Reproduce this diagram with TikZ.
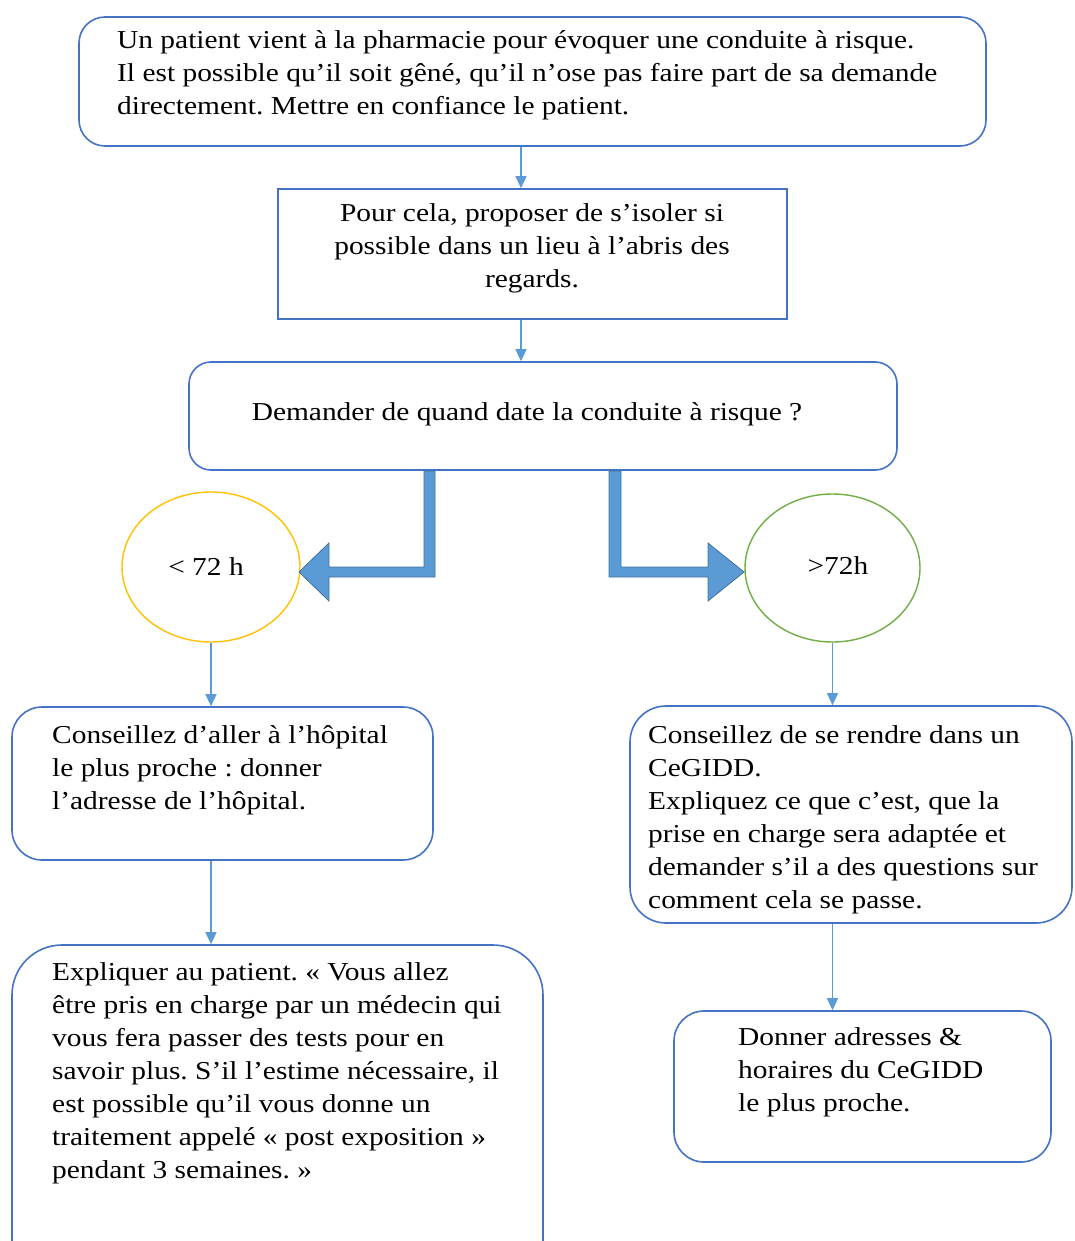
\documentclass[tikz,border=0pt]{standalone}
\usepackage{fontspec}
\setmainfont{Liberation Serif}[FakeStretch=1.14]
\usetikzlibrary{shapes.geometric,arrows.meta}
\definecolor{boxblue}{HTML}{4472C4}
\definecolor{lineblue}{HTML}{5B9BD5}
\definecolor{arrowedge}{HTML}{41719C}
\definecolor{ellyellow}{HTML}{FFC000}
\definecolor{ellgreen}{HTML}{70AD47}
\tikzset{
  flowbox/.style={draw=boxblue, line width=1.6pt, rectangle, inner sep=0pt},
  conn/.style={draw=lineblue, line width=1.4pt, -{Triangle[width=11pt,length=12pt]}},
  txt/.style={inner sep=0pt, font=\fontsize{25.8}{33}\selectfont\frenchspacing},
  blockarrow/.style={fill=lineblue, draw=arrowedge, line width=0.8pt, line join=miter},
}
\frenchspacing
\begin{document}
\begin{tikzpicture}[x=1pt,y=-1pt]
\useasboundingbox (0,0) rectangle (1074,1241);
\clip (0,0) rectangle (1074,1241);
% boxes
\node[flowbox, rounded corners=26pt, minimum width=907pt, minimum height=129pt] (b1) at (532.5,81.5) {};
\node[flowbox, minimum width=509pt, minimum height=130pt] (b2) at (532.5,254) {};
\node[flowbox, rounded corners=22pt, minimum width=708pt, minimum height=108pt] (b3) at (543,416) {};
\node[draw=ellyellow, line width=1.4pt, ellipse, minimum width=178pt, minimum height=150pt, inner sep=0pt] (lt) at (211,567) {};
\node[draw=ellgreen, line width=1.4pt, ellipse, minimum width=175pt, minimum height=148pt, inner sep=0pt] (gt) at (832.5,568) {};
\node[flowbox, rounded corners=30pt, minimum width=421pt, minimum height=153pt] (b4) at (222.5,783.5) {};
\node[flowbox, rounded corners=50pt, minimum width=531pt, minimum height=345pt] (b5) at (277.5,1117.5) {};
\node[flowbox, rounded corners=36pt, minimum width=442pt, minimum height=217pt] (b6) at (851,814.5) {};
\node[flowbox, rounded corners=30pt, minimum width=377pt, minimum height=151pt] (b7) at (862.5,1086.5) {};
% texts
\node[txt, anchor=base west] (t1) at (117,49) {\parbox[t]{900pt}{\frenchspacing\raggedright Un patient vient à la pharmacie pour évoquer une conduite à risque.\\Il est possible qu’il soit gêné, qu’il n’ose pas faire part de sa demande\\directement. Mettre en confiance le patient.}};
\node[txt, anchor=base] (t2) at (532,222) {\parbox[t]{500pt}{\frenchspacing\centering Pour cela, proposer de s’isoler si\\possible dans un lieu à l’abris des\\regards.}};
\node[txt, anchor=base] (t3) at (527,420) {Demander de quand date la conduite à risque ?};
\node[txt, anchor=base] (tlt) at (206,575) {< 72 h};
\node[txt, anchor=base] (tgt) at (838,574) {>72h};
\node[txt, anchor=base west] (t4) at (52,743) {\parbox[t]{400pt}{\frenchspacing\raggedright Conseillez d’aller à l’hôpital\\le plus proche : donner\\l’adresse de l’hôpital.}};
\node[txt, anchor=base west] (t5) at (52,980) {\parbox[t]{500pt}{\frenchspacing\raggedright Expliquer au patient. « Vous allez\\être pris en charge par un médecin qui\\vous fera passer des tests pour en\\savoir plus. S’il l’estime nécessaire, il\\est possible qu’il vous donne un\\traitement appelé « post exposition »\\pendant 3 semaines. »}};
\node[txt, anchor=base west] (t6) at (648,743) {\parbox[t]{430pt}{\frenchspacing\raggedright Conseillez de se rendre dans un\\CeGIDD.\\Expliquez ce que c’est, que la\\prise en charge sera adaptée et\\demander s’il a des questions sur\\comment cela se passe.}};
\node[txt, anchor=base west] (t7) at (738,1045) {\parbox[t]{320pt}{\frenchspacing\raggedright Donner adresses \&\\horaires du CeGIDD\\le plus proche.}};
% thin connectors
\coordinate (cx) at (521,0);
\draw[conn] (cx |- b1.south) -- (cx |- b2.north);
\draw[conn] (cx |- b2.south) -- (cx |- b3.north);
\draw[conn] (lt.south) -- (lt.south |- b4.north);
\draw[conn] (lt.south |- b4.south) -- (lt.south |- b5.north);
\draw[conn] (gt.south) -- (gt.south |- b6.north);
\draw[conn] (gt.south |- b6.south) -- (gt.south |- b7.north);
% block bent arrows
\draw[blockarrow] (435,471) -- (435,577) -- (329,577) -- (329,601) -- (299,572) -- (329,543) -- (329,567) -- (424,567) -- (424,471) -- cycle;
\draw[blockarrow] (609,471) -- (609,577) -- (708,577) -- (708,601) -- (744,572) -- (708,543) -- (708,567) -- (621,567) -- (621,471) -- cycle;
\end{tikzpicture}
\end{document}
